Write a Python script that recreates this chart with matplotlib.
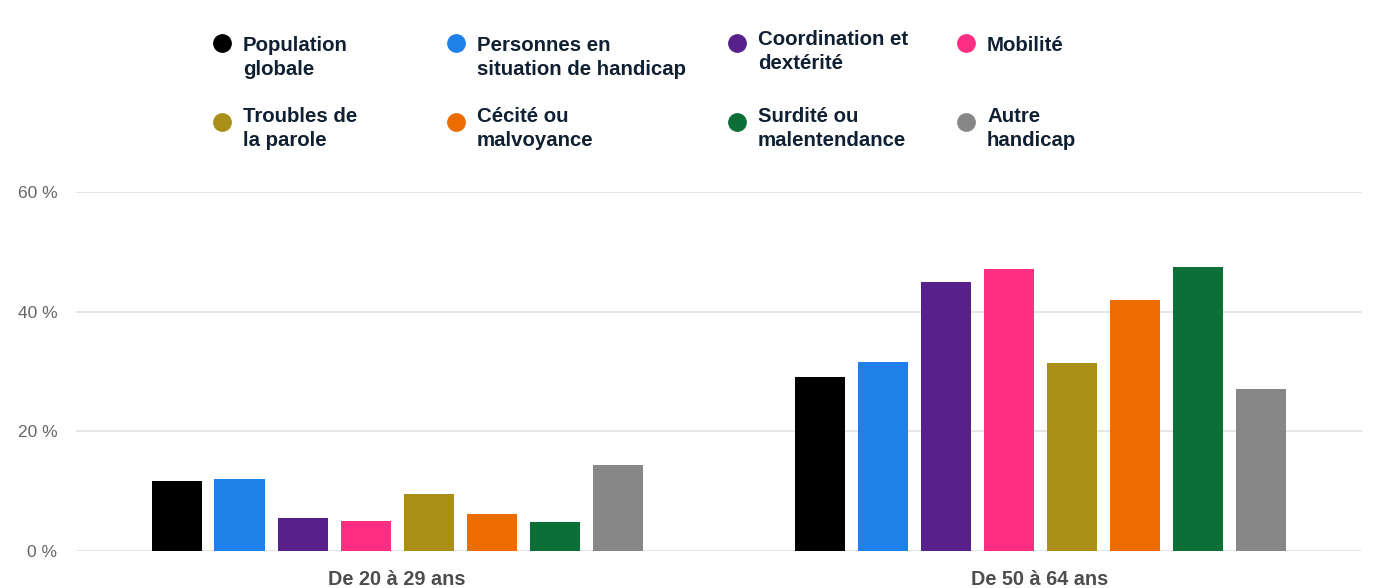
import matplotlib
matplotlib.use("Agg")
import matplotlib.pyplot as plt
from matplotlib.lines import Line2D
import numpy as np

plt.rcParams['font.family'] = ['Liberation Sans', 'DejaVu Sans']

# data
age_groups = ["De 20 à 29 ans", "De 50 à 64 ans"]
series = ["Population\nglobale", "Personnes en\nsituation de handicap",
          "Coordination et\ndextérité", "Mobilité",
          "Troubles de\nla parole", "Cécité ou\nmalvoyance",
          "Surdité ou\nmalentendance", "Autre\nhandicap"]
values_20_29 = [11.7, 12.0, 5.5, 5.0, 9.6, 6.2, 4.9, 14.4]
values_50_64 = [29.1, 31.6, 44.9, 47.2, 31.5, 41.9, 47.4, 27.1]
colors = ["#000000", "#1f80ea", "#58208a", "#fe2e83",
          "#a98f17", "#ed6c00", "#0b6f38", "#878787"]
y_ticks = [0, 20, 40, 60]

W, H = 1376, 588
fig = plt.figure(figsize=(W / 100, H / 100), dpi=100)
ax = fig.add_axes([75.5 / W, 1 - 551 / H, 1286 / W, 359 / H])

pitch = 63 / 643
width = 50 / 643
x = np.arange(len(age_groups))
for i, (name, col) in enumerate(zip(series, colors)):
    vals = [values_20_29[i], values_50_64[i]]
    ax.bar(x + (i - 3.5) * pitch, vals, width, color=col, zorder=3)

ax.set_xlim(-0.5, 1.5)
ax.set_ylim(0, 60)
ax.set_yticks(y_ticks)
ax.set_yticklabels([f"{v} %" for v in y_ticks], fontsize=12.5, color="#666666")
ax.set_xticks(x)
ax.set_xticklabels(age_groups, fontsize=14.3, fontweight="bold", color="#4d4d4d")
ax.tick_params(axis="y", length=0, pad=13)
ax.tick_params(axis="x", length=0, pad=14)
ax.grid(axis="y", color="#e4e4e4", linewidth=1.3)
ax.set_axisbelow(True)
for s in ax.spines.values():
    s.set_visible(False)

# legend drawn by hand: 4 columns x 2 rows
col_x = [222, 456, 737, 966]
row_y = [43, 122]
text_dy = [-7, -7, -13, -7, -15, -15, -15, -15]
for i, (name, col) in enumerate(zip(series, colors)):
    cx = col_x[i % 4]
    cy = row_y[i // 4]
    fig.add_artist(Line2D([cx / W], [1 - cy / H], marker="o", markersize=12.5,
                          color=col, linestyle="none", transform=fig.transFigure))
    fig.text((cx + 21) / W, 1 - (cy + text_dy[i]) / H, name, fontsize=14.7,
             fontweight="bold", color="#102033", va="top", ha="left",
             linespacing=1.32)

fig.savefig("out.png", dpi=100, facecolor="white")
